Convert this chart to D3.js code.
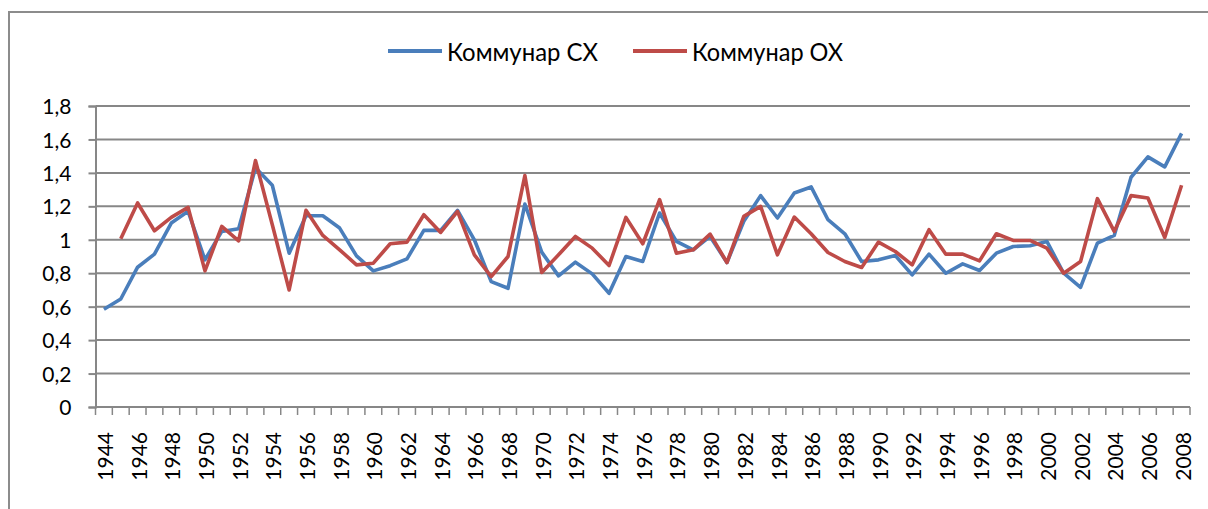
<!DOCTYPE html>
<html><head><meta charset="utf-8">
<script src="https://cdn.jsdelivr.net/npm/d3@7"></script>
<style>body{margin:0;background:#fff}svg{display:block}text{font-family:Lato,"Liberation Sans",Arial,sans-serif;fill:#000}</style>
</head><body><svg id="c" width="1208" height="509"></svg>
<script>
const years = d3.range(1944, 2009);
const seriesNames = ["Коммунар СХ", "Коммунар ОХ"];
const seriesColors = ["#4a7ebb", "#be4b48"];
const cx = [0.584,0.646,0.836,0.914,1.10,1.17,0.88,1.05,1.066,1.43,1.326,0.92,1.144,1.144,1.07,0.904,0.814,0.845,
  0.886,1.056,1.056,1.176,1.0,0.75,0.71,1.214,0.926,0.784,0.866,0.796,0.68,0.90,0.87,1.16,0.99,
  0.94,1.02,0.864,1.11,1.264,1.13,1.28,1.316,1.12,1.036,0.87,0.88,0.906,0.79,0.914,0.80,0.856,
  0.816,0.92,0.96,0.964,0.99,0.80,0.716,0.98,1.026,1.374,1.496,1.436,1.636];
const ox = [null,1.006,1.22,1.054,1.134,1.194,0.814,1.08,0.994,1.474,1.09,0.70,1.176,1.026,0.94,0.85,0.86,0.976,
  0.986,1.15,1.044,1.17,0.91,0.78,0.90,1.384,0.804,0.91,1.02,0.95,0.846,1.134,0.976,1.24,0.92,
  0.94,1.034,0.864,1.14,1.2,0.91,1.136,1.036,0.924,0.87,0.834,0.986,0.93,0.85,1.06,0.914,0.914,
  0.874,1.036,0.996,0.996,0.95,0.80,0.87,1.246,1.05,1.264,1.25,1.014,1.326];
const yTicks = [0,0.2,0.4,0.6,0.8,1,1.2,1.4,1.6,1.8];

const svg = d3.select("#c");
const m = {l:95.5, r:1190, t:106, b:407};
svg.append("rect").attr("x",9).attr("y",12).attr("width",1230).attr("height",520)
  .attr("fill","none").attr("stroke","#8c8c8c").attr("stroke-width",2);

const x = d3.scaleBand().domain(years).range([m.l, m.r]);
const y = d3.scaleLinear().domain([0,1.8]).range([m.b, m.t]);
const fmt = v => String(v).replace(".", ",");

// gridlines
svg.append("g").selectAll("line").data(yTicks.filter(d=>d>0)).join("line")
  .attr("x1",m.l).attr("x2",m.r).attr("y1",d=>y(d)).attr("y2",d=>y(d))
  .attr("stroke","#878787").attr("stroke-width",2);

// y axis
const ya = svg.append("g").attr("transform",`translate(${m.l},0)`)
  .call(d3.axisLeft(y).tickValues(yTicks).tickFormat(fmt).tickSize(7).tickPadding(17));
ya.select(".domain").attr("stroke","#878787").attr("stroke-width",2);
ya.selectAll(".tick line").attr("stroke","#878787").attr("stroke-width",2);
ya.selectAll("text").attr("font-size",21).attr("font-family","Lato, Liberation Sans, Arial").attr("fill","#000").attr("dy","0.36em");

// x axis baseline + boundary ticks
svg.append("line").attr("x1",m.l).attr("x2",m.r).attr("y1",m.b).attr("y2",m.b)
  .attr("stroke","#878787").attr("stroke-width",2);
svg.append("g").selectAll("line").data(years.concat([2009])).join("line")
  .attr("x1",d=>d===2009?m.r:x(d)).attr("x2",d=>d===2009?m.r:x(d))
  .attr("y1",m.b).attr("y2",m.b+8).attr("stroke","#878787").attr("stroke-width",1.5);
svg.append("g").selectAll("text").data(years.filter(d=>d%2===0)).join("text")
  .attr("transform",d=>`translate(${x(d)+x.bandwidth()/2+1.5},432) rotate(-90)`)
  .attr("text-anchor","end").attr("dy","0.36em").attr("font-size",21).text(d=>d);

// lines
const line = d3.line().defined(d=>d[1]!=null).x(d=>x(d[0])+x.bandwidth()/2).y(d=>y(d[1]));
[cx, ox].forEach((s,k)=>{
  svg.append("path").datum(years.map((yr,i)=>[yr,s[i]])).attr("d",line)
    .attr("fill","none").attr("stroke",seriesColors[k]).attr("stroke-width",3.6)
    .attr("stroke-linejoin","round");
});

// legend
const lg = [{x:388, tx:447},{x:633, tx:692}];
seriesNames.forEach((n,k)=>{
  svg.append("line").attr("x1",lg[k].x).attr("x2",lg[k].x+54).attr("y1",51).attr("y2",51)
    .attr("stroke",seriesColors[k]).attr("stroke-width",4);
  svg.append("text").attr("x",lg[k].tx).attr("y",61).attr("font-size",25)
    .attr("textLength",151).attr("lengthAdjust","spacingAndGlyphs").text(n);
});
</script></body></html>
